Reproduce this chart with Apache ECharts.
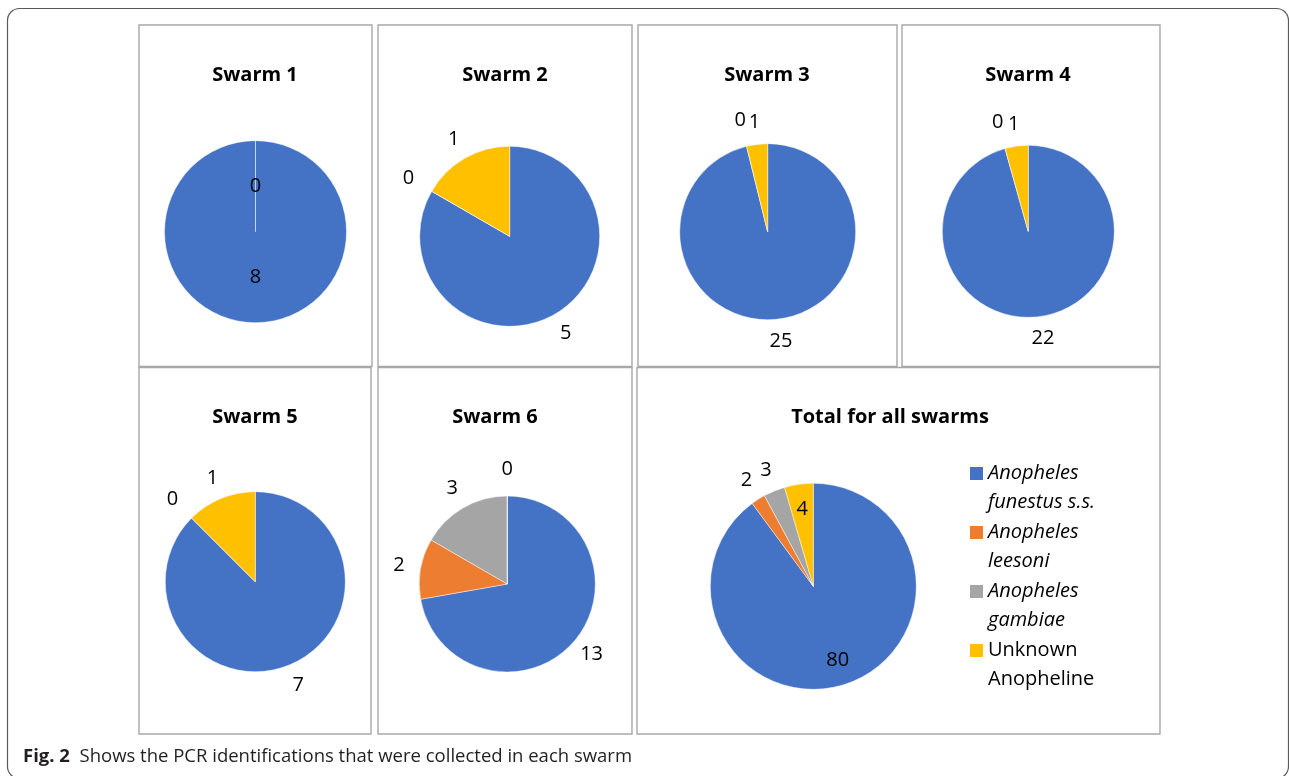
<!DOCTYPE html>
<html><head><meta charset="utf-8">
<script src="https://cdn.jsdelivr.net/npm/echarts@6/dist/echarts.min.js"></script>
<style>html,body{margin:0;padding:0;background:#fff}#c{width:1289px;height:776px}</style>
</head><body><div id="c"></div>
<script>
// ---- data ----
const categories = ['Anopheles\nfunestus s.s.', 'Anopheles\nleesoni', 'Anopheles\ngambiae', 'Unknown\nAnopheline'];
const chartTitles = ['Swarm 1', 'Swarm 2', 'Swarm 3', 'Swarm 4', 'Swarm 5', 'Swarm 6', 'Total for all swarms'];
const swarm1 = [8, null, null, 0];
const swarm2 = [5, null, 0, 1];
const swarm3 = [25, null, 0, 1];
const swarm4 = [22, null, 0, 1];
const swarm5 = [7, null, 0, 1];
const swarm6 = [13, 2, 3, 0];
const totalAll = [80, 2, 3, 4];
const caption = 'Shows the PCR identifications that were collected in each swarm';
const captionLabel = 'Fig. 2';

// ---- styling / layout ----
const colors = ['#4472C4', '#ED7D31', '#A5A5A5', '#FFC000'];
const FONT = 'Open Sans';
const seriesValues = [swarm1, swarm2, swarm3, swarm4, swarm5, swarm6, totalAll];
const layout = [
  {c: [255.5, 231.7], r: 91,  t: [255, 75],   inside: {0: 0.5, 3: 0.5}},
  {c: [509.7, 236.3], r: 90,  t: [505, 75],   inside: {}},
  {c: [767.7, 231.7], r: 88,  t: [767, 75],   inside: {}},
  {c: [1028.3, 231.3], r: 86, t: [1028, 75],  inside: {}},
  {c: [255.3, 581.7], r: 90,  t: [255, 417],  inside: {}},
  {c: [507.3, 584], r: 88,    t: [495, 417],  inside: {}},
  {c: [813.3, 586.3], r: 103, t: [890, 417],  inside: {0: 0.76, 3: 0.76}}
];
const panels = [
  [139, 25, 372, 366.5], [378, 25, 632, 366.5], [638, 25, 897, 366.5], [902, 25, 1160, 366.5],
  [139, 367.5, 371, 734], [378, 367.5, 632, 734], [637, 367.5, 1160, 734]
];

const series = seriesValues.map((vals, s) => {
  const L = layout[s];
  const data = [];
  vals.forEach((v, i) => {
    if (v == null) return;
    const frac = L.inside[i];
    const len = frac != null ? -(1 - frac) * L.r : (v === 0 ? 27 : 22);
    data.push({name: categories[i], value: v, itemStyle: {color: colors[i]}, labelLine: {length: len}});
  });
  return {
    type: 'pie', center: L.c, radius: L.r, startAngle: 90, clockwise: true,
    avoidLabelOverlap: false, animation: false, silent: true,
    itemStyle: {borderColor: 'rgba(255,255,255,0.75)', borderWidth: 0.6},
    label: {show: true, position: 'outside', formatter: '{c}', distanceToLabelLine: 0,
            fontFamily: FONT, fontSize: 20, color: '#000'},
    labelLine: {show: false, length: 22, length2: 0},
    labelLayout: {align: 'center'},
    emphasis: {disabled: true},
    data
  };
});

const titles = chartTitles.map((t, s) => ({
  text: t, left: layout[s].t[0], top: layout[s].t[1], padding: 0,
  textAlign: 'center', textVerticalAlign: 'middle',
  textStyle: {fontFamily: FONT, fontSize: 20, fontWeight: 'bold', color: '#000'}
}));

const graphics = [
  {type: 'rect', z: -10, shape: {x: 7.5, y: 8.5, width: 1281, height: 770, r: 12},
   style: {fill: 'none', stroke: '#5a5a5a', lineWidth: 1.2}},
  ...panels.map(p => ({type: 'rect', z: -5, shape: {x: p[0], y: p[1], width: p[2] - p[0], height: p[3] - p[1]},
    style: {fill: 'none', stroke: '#a8a8a8', lineWidth: 1.4}})),
  {type: 'text', left: 23, top: 747, z: 5,
   style: {text: '{b|' + captionLabel + '}  ' + caption, fontFamily: FONT, fontSize: 18.5, fill: '#231f20',
           rich: {b: {fontFamily: FONT, fontSize: 18.5, fontWeight: 'bold', fill: '#231f20'}}}}
];

const chart = echarts.init(document.getElementById('c'), null, {renderer: 'canvas'});
chart.setOption({
  backgroundColor: '#fff',
  animation: false,
  title: titles,
  legend: {
    orient: 'vertical', left: 970, top: 430, padding: 0, itemWidth: 13, itemHeight: 13, itemGap: -28,
    icon: 'rect', selectedMode: false,
    itemStyle: {borderWidth: 0},
    formatter: name => ' \n' + name,
    data: categories.map((n, i) => ({name: n, textStyle: {fontStyle: i < 3 ? 'italic' : 'normal'}})),
    textStyle: {fontFamily: FONT, fontSize: 20, color: '#000', lineHeight: 29}
  },
  graphic: graphics,
  series
});
</script></body></html>
